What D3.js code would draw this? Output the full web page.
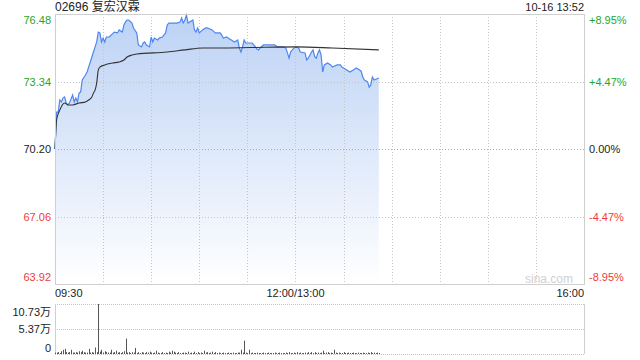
<!DOCTYPE html>
<html>
<head>
<meta charset="utf-8">
<script src="https://cdn.jsdelivr.net/npm/d3@7"></script>
<style>
  body { margin: 0; background: #fff; }
  svg { display: block; font-family: "Liberation Sans", Arial, sans-serif; }
</style>
</head>
<body>
<svg id="chart" width="640" height="360"></svg>
<script>
// trading minutes since 09:30 (150 = 12:00/13:00, 330 = 16:00)
const priceMinutes = [0,1,2,3,4,5,6,7,8,9,11,12,13,14,15,16,17,19,20,21,23,25,26,27,28,29,30,31,32,34,35,37,39,40,42,43,44,45,46,48,49,51,52,54,55,56,57,59,60,61,62,64,65,67,69,70,71,74,76,78,79,80,81,82,83,84,86,87,88,89,90,92,94,95,98,100,103,104,105,107,108,110,112,114,115,116,117,118,119,123,125,126,127,128,130,137,139,142,144,145,146,147,148,150,152,153,156,157,158,160,161,162,163,164,165,166,167,168,170,172,173,176,178,179,180,182,184,186,188,190,191,192,193,195,196,197,198,199,202];
const prices = [70.20,71.92,71.92,72.48,72.39,72.57,72.62,72.34,72.25,72.34,72.71,72.39,72.57,72.39,72.80,72.85,73.41,73.64,73.78,74.01,74.48,74.95,75.18,75.64,75.60,75.18,75.36,75.18,75.41,75.41,75.50,75.64,75.60,75.74,75.64,75.97,76.11,76.20,76.20,76.06,75.83,75.60,75.04,74.95,75.13,75.18,75.04,74.95,75.41,75.18,75.36,75.27,75.36,75.41,75.60,75.97,76.06,76.06,76.06,76.11,76.29,76.06,76.20,76.43,76.06,76.11,76.20,75.74,75.64,75.83,75.60,75.74,75.83,75.83,75.74,75.60,75.60,75.50,75.36,75.41,75.36,75.27,75.18,75.27,74.90,74.71,74.95,75.27,75.13,75.13,74.95,74.85,74.81,74.90,75.04,75.04,74.95,74.95,74.90,74.67,74.43,74.71,74.81,74.95,74.90,74.71,74.67,74.34,74.43,74.71,74.81,74.50,74.43,74.67,74.81,74.57,73.78,74.11,74.20,74.11,74.01,74.11,74.11,74.01,73.97,73.87,73.78,73.87,73.97,73.87,73.82,73.55,73.41,73.32,73.08,73.18,73.55,73.41,73.50];

const avgMinutes = [0,1,3,6,8,11,15,19,21,23,24,25,26,27,28,31,36,40,43,45,48,51,70,81,92,103,122,151,173,202];
const avgPrices = [70.20,71.55,72.01,72.34,72.25,72.25,72.34,72.39,72.48,72.62,72.80,72.94,73.27,73.87,74.01,74.11,74.20,74.25,74.34,74.48,74.57,74.62,74.71,74.81,74.90,74.90,74.92,74.95,74.90,74.81];

// volume per minute, in 万 shares, minute 0..202
const volumes = [0.3,0.3,0.4,0.2,0.6,0.9,1.1,0.4,0.3,0.4,0.9,0.3,0.3,0.4,0.3,0.6,0.4,0.7,0.4,0.3,
  0.3,1.1,0.3,0.4,0.3,1.4,0.4,10.73,0.5,0.9,0.3,0.6,0.4,0.3,0.3,0.9,0.3,0.4,0.7,0.3,
  0.4,0.2,0.4,0.6,3.3,0.3,0.4,0.2,0.4,0.3,1.3,0.2,0.4,0.2,0.4,0.3,0.2,0.4,0.3,0.5,
  0.3,0.2,0.3,0.7,0.3,0.2,0.2,0.4,0.2,0.3,0.2,0.5,0.3,0.7,0.5,0.3,0.2,0.4,0.2,0.2,
  0.3,0.3,0.2,0.5,0.2,0.3,0.2,0.5,0.2,0.4,0.2,0.3,0.2,0.7,0.3,0.4,0.2,0.3,0.5,0.2,
  0.4,0.2,0.3,0.2,0.2,0.3,0.2,0.2,0.3,0.2,0.2,0.3,0.2,0.2,0.3,0.3,0.9,0.3,2.85,0.3,
  0.2,0.9,0.2,0.3,0.2,0.2,0.3,0.2,0.2,0.2,0.3,0.2,0.2,0.3,0.2,0.2,0.2,0.3,0.2,0.2,
  0.3,0.2,0.2,0.2,0.3,0.2,0.4,0.2,0.2,0.3,0.2,0.4,0.2,0.3,0.2,0.2,0.3,0.2,0.4,0.2,
  0.4,0.2,0.4,0.2,0.3,0.2,0.3,0.7,0.2,0.3,0.4,0.2,0.3,0.2,0.9,0.3,0.2,0.3,0.2,0.2,
  0.4,0.2,0.2,0.3,0.2,0.2,0.3,0.2,0.2,0.3,0.2,0.2,0.3,0.2,0.2,0.3,0.2,0.4,0.2,0.3,
  0.2,0.3,0.2];

const priceTicks = [76.48, 73.34, 70.20, 67.06, 63.92];
const pctLabels = ["+8.95%", "+4.47%", "0.00%", "-4.47%", "-8.95%"];
const volTicks = [10.73, 5.37, 0];
const volLabels = ["10.73万", "5.37万", "0"];
const timeTicks = [0, 150, 330];
const timeLabels = ["09:30", "12:00/13:00", "16:00"];
const title = "02696 复宏汉霖";
const stamp = "10-16 13:52";
const preClose = 70.20;

const green = "#1fa81f", red = "#f03b3b", grid = "#c4c4c4", border = "#cfcfcf";

const svg = d3.select("#chart");
const x = d3.scaleLinear().domain([0, 330]).range([55, 584]);
const y = d3.scaleLinear().domain([63.92, 76.48]).range([284, 14]);
const yv = d3.scaleLinear().domain([0, 10.73]).range([354, 304]);

const colorOf = v => v > preClose ? green : v < preClose ? red : "#222";

// gradient for the area
const grad = svg.append("defs").append("linearGradient")
  .attr("id", "fillGrad").attr("gradientUnits", "userSpaceOnUse")
  .attr("x1", 0).attr("x2", 0).attr("y1", y.range()[1]).attr("y2", y.range()[0]);
grad.append("stop").attr("offset", 0).attr("stop-color", "#bcd2f5");
grad.append("stop").attr("offset", 1).attr("stop-color", "#ffffff");

// title
svg.append("text").attr("x", 55).attr("y", 11).attr("font-size", 12).attr("fill", "#222")
  .style("font-family", "'Liberation Sans', 'Noto Sans CJK SC', sans-serif").text(title);
svg.append("text").attr("x", 584).attr("y", 11).attr("font-size", 11).attr("fill", "#222")
  .attr("text-anchor", "end").text(stamp);

// area under price
const area = d3.area().x((d, i) => x(priceMinutes[i])).y0(284).y1(d => y(d));
svg.append("path").datum(prices).attr("d", area).attr("fill", "url(#fillGrad)");

// price grid, drawn over the fill
svg.append("g").selectAll("line").data(priceTicks.slice(1, -1)).join("line")
  .attr("x1", 55).attr("x2", 584).attr("y1", d => Math.round(y(d)) + 0.5).attr("y2", d => Math.round(y(d)) + 0.5)
  .attr("stroke", d => d === preClose ? "#aaa" : grid).attr("stroke-dasharray", "1,2");

const halfHours = d3.range(30, 330, 30);
svg.append("g").selectAll("line").data(halfHours).join("line")
  .attr("x1", d => Math.round(x(d)) + 0.5).attr("x2", d => Math.round(x(d)) + 0.5)
  .attr("y1", 14).attr("y2", 284)
  .attr("stroke", grid).attr("stroke-dasharray", "1,2");

// lines
const line = d3.line().x((d, i) => x(priceMinutes[i])).y(d => y(d));
svg.append("path").datum(prices).attr("d", line)
  .attr("fill", "none").attr("stroke", "#4f86ee").attr("stroke-width", 1.2);

const avgLine = d3.line().x((d, i) => x(avgMinutes[i])).y(d => y(d)).curve(d3.curveMonotoneX);
svg.append("path").datum(avgPrices).attr("d", avgLine)
  .attr("fill", "none").attr("stroke", "#333").attr("stroke-width", 1.1);

// price frame
svg.append("rect").attr("x", 55.5).attr("y", 14.5).attr("width", 529).attr("height", 270)
  .attr("fill", "none").attr("stroke", border);

// watermark
svg.append("text").attr("x", 573).attr("y", 283).attr("text-anchor", "end")
  .attr("font-size", 12).attr("fill", "#d0d0d0").text("sina.com");

// left/right labels
const labelY = (d, i, n) => i === 0 ? y(d) + 10 : i === n - 1 ? y(d) - 3 : y(d) + 4;
svg.append("g").selectAll("text").data(priceTicks).join("text")
  .attr("x", 51).attr("y", (d, i) => labelY(d, i, priceTicks.length))
  .attr("text-anchor", "end").attr("font-size", 11).attr("fill", colorOf)
  .text(d => d.toFixed(2));
svg.append("g").selectAll("text").data(pctLabels).join("text")
  .attr("x", 589).attr("y", (d, i) => labelY(priceTicks[i], i, priceTicks.length))
  .attr("font-size", 11).attr("fill", (d, i) => colorOf(priceTicks[i]))
  .text(d => d);

// time labels
svg.append("g").selectAll("text").data(timeTicks).join("text")
  .attr("x", d => x(d)).attr("y", 297)
  .attr("text-anchor", (d, i) => i === 0 ? "start" : i === timeTicks.length - 1 ? "end" : "middle")
  .attr("font-size", 11).attr("fill", "#222")
  .text((d, i) => timeLabels[i]);

// volume panel
svg.append("g").selectAll("line").data(volTicks).join("line")
  .attr("x1", 55).attr("x2", 584).attr("y1", d => Math.round(yv(d)) + 0.5).attr("y2", d => Math.round(yv(d)) + 0.5)
  .attr("stroke", grid).attr("stroke-dasharray", "1,1");
svg.append("line").attr("x1", 55.5).attr("x2", 55.5).attr("y1", 304).attr("y2", 354).attr("stroke", border);
svg.append("line").attr("x1", 584.5).attr("x2", 584.5).attr("y1", 304).attr("y2", 354).attr("stroke", border);

svg.append("g").selectAll("line").data(volumes).join("line")
  .attr("x1", (d, i) => Math.round(x(i)) + 0.5).attr("x2", (d, i) => Math.round(x(i)) + 0.5)
  .attr("y1", yv(0)).attr("y2", d => yv(d))
  .attr("stroke", "#555").attr("stroke-width", 1);

svg.append("g").selectAll("text").data(volTicks).join("text")
  .attr("x", 51).attr("y", (d, i) => i === 0 ? yv(d) + 12 : i === volTicks.length - 1 ? yv(d) - 2 : yv(d) + 4)
  .attr("text-anchor", "end").attr("font-size", 11).attr("fill", "#222")
  .style("font-family", "'Liberation Sans', 'Noto Sans CJK SC', sans-serif")
  .text((d, i) => volLabels[i]);
</script>
</body>
</html>
